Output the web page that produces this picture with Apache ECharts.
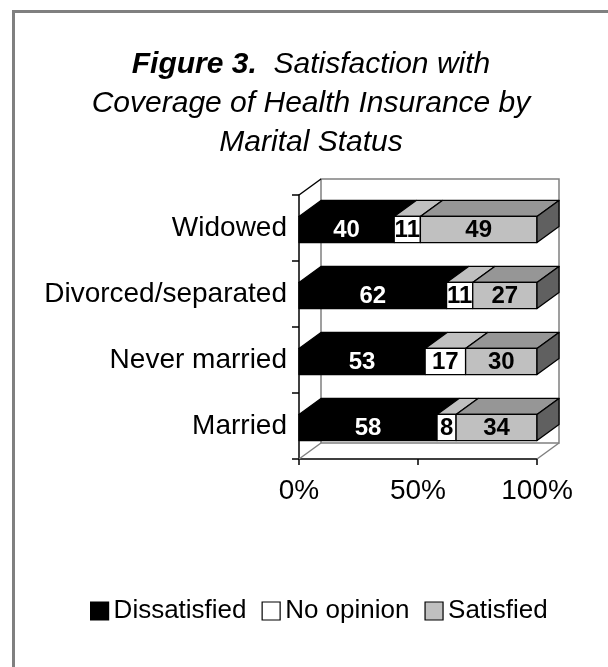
<!DOCTYPE html>
<html>
<head>
<meta charset="utf-8">
<script src="https://cdn.jsdelivr.net/npm/echarts@6/dist/echarts.min.js"></script>
<style>
html,body{margin:0;padding:0;background:#fff;}
#chart{width:608px;height:667px;}
</style>
</head>
<body>
<div id="chart"></div>
<script>
// ---- data ----
const categories = ['Married', 'Never married', 'Divorced/separated', 'Widowed'];
const seriesNames = ['Dissatisfied', 'No opinion', 'Satisfied'];
const dissatisfied = [58, 53, 62, 40];
const noOpinion = [8, 17, 11, 11];
const satisfied = [34, 30, 27, 49];
const xTickValues = [0, 50, 100];

// ---- styles ----
const FONT = '"Liberation Sans", Arial, sans-serif';
const DX = 22, DY = -16;
const faceColors = [
  { front: '#000000', top: '#000000', side: '#000000', label: '#ffffff' },
  { front: '#ffffff', top: '#c0c0c0', side: '#c0c0c0', label: '#000000' },
  { front: '#c0c0c0', top: '#969696', side: '#606060', label: '#000000' }
];
const legendColors = ['#000000', '#ffffff', '#c0c0c0'];

const allSeries = [dissatisfied, noOpinion, satisfied];

function buildData(sIdx) {
  return categories.map((c, i) => {
    let start = 0;
    for (let k = 0; k < sIdx; k++) start += allSeries[k][i];
    const v = allSeries[sIdx][i];
    return [start, start + v, i, v];
  });
}

function barRender(sIdx) {
  const isLast = sIdx === allSeries.length - 1;
  const col = faceColors[sIdx];
  return function (params, api) {
    const p0 = api.coord([api.value(0), api.value(2)]);
    const p1 = api.coord([api.value(1), api.value(2)]);
    const band = api.size([0, 1])[1];
    const h = band * 0.395;
    const x = p0[0], w = p1[0] - p0[0];
    const y = p0[1] - h / 2 + 1.5;
    const stroke = { stroke: '#000', lineWidth: 1.3, lineJoin: 'round' };
    const children = [
      { type: 'polygon', shape: { points: [[x, y], [x + DX, y + DY], [x + w + DX, y + DY], [x + w, y]] },
        style: Object.assign({ fill: col.top }, stroke) },
      { type: 'rect', shape: { x: x, y: y, width: w, height: h },
        style: Object.assign({ fill: col.front }, stroke) }
    ];
    if (isLast) {
      children.push({ type: 'polygon', shape: { points: [[x + w, y], [x + w + DX, y + DY], [x + w + DX, y + DY + h], [x + w, y + h]] },
        style: Object.assign({ fill: col.side }, stroke) });
    }
    children.push({ type: 'text', style: {
      text: String(api.value(3)), x: x + w / 2, y: y + h / 2 + 1,
      align: 'center', verticalAlign: 'middle',
      fill: col.label, font: 'bold 24px ' + FONT } });
    return { type: 'group', children: children };
  };
}

function wallRender(params, api) {
  const cs = params.coordSys;
  const x = cs.x, y = cs.y, w = cs.width, h = cs.height;
  const gray = { stroke: '#808080', lineWidth: 1.5 };
  return { type: 'group', children: [
    { type: 'rect', shape: { x: x + DX, y: y + DY, width: w, height: h }, style: Object.assign({ fill: '#fff' }, gray) },
    { type: 'line', shape: { x1: x, y1: y + h, x2: x + DX, y2: y + h + DY }, style: gray },
    { type: 'line', shape: { x1: x + w, y1: y + h, x2: x + w + DX, y2: y + h + DY }, style: gray },
    { type: 'line', shape: { x1: x, y1: y, x2: x + DX, y2: y + DY }, style: { stroke: '#000', lineWidth: 1.5 } }
  ] };
}

const series = [{
  type: 'custom', name: 'walls', z: 1, silent: true,
  renderItem: wallRender, data: [[0, 0, 0]], encode: { x: 0, y: 1 }
}];
seriesNames.forEach((n, s) => {
  series.push({
    type: 'custom', name: n, z: 3,
    renderItem: barRender(s),
    data: buildData(s),
    encode: { x: [0, 1], y: 2 },
    itemStyle: { color: legendColors[s], borderColor: '#000', borderWidth: 1.2 }
  });
});

const chart = echarts.init(document.getElementById('chart'), null, { renderer: 'canvas' });
chart.setOption({
  backgroundColor: '#fff',
  animation: false,
  title: {
    left: 306, top: 40, textAlign: 'center',
    text: '{b|Figure 3.}  Satisfaction with\nCoverage of Health Insurance by\nMarital Status',
    textStyle: {
      fontFamily: FONT, fontSize: 30, fontStyle: 'italic', fontWeight: 'normal',
      color: '#000', lineHeight: 39,
      rich: { b: { fontFamily: FONT, fontSize: 30, fontStyle: 'italic', fontWeight: 'bold', color: '#000', lineHeight: 39 } }
    }
  },
  graphic: [{
    type: 'rect', shape: { x: 13.5, y: 11.5, width: 700, height: 700 },
    style: { fill: 'none', stroke: '#808080', lineWidth: 3 }, z: 100, silent: true
  }],
  legend: {
    top: 591, left: 85,
    data: seriesNames.map((n, i) => ({ name: n, icon: 'rect',
      itemStyle: { color: legendColors[i], borderColor: '#000', borderWidth: 1.2 } })),
    itemWidth: 18, itemHeight: 18, itemGap: 15,
    textStyle: { fontFamily: FONT, fontSize: 26, color: '#000', lineHeight: 30 }
  },
  grid: { left: 299, top: 195, width: 238, height: 264, containLabel: false },
  xAxis: {
    type: 'value', min: 0, max: 100, interval: 50,
    axisLine: { show: true, lineStyle: { color: '#000', width: 1.5 } },
    axisTick: { show: true, length: 6, lineStyle: { color: '#000', width: 1.5 } },
    splitLine: { show: false },
    axisLabel: { fontFamily: FONT, fontSize: 28, color: '#000', margin: 18,
      formatter: v => (xTickValues.indexOf(v) >= 0 ? v + '%' : '') }
  },
  yAxis: {
    type: 'category', data: categories,
    axisLine: { show: true, lineStyle: { color: '#000', width: 1.5 } },
    axisTick: { show: true, length: 7, lineStyle: { color: '#000', width: 1.5 } },
    axisLabel: { fontFamily: FONT, fontSize: 28, color: '#000', margin: 12 }
  },
  series: series
});
</script>
</body>
</html>
